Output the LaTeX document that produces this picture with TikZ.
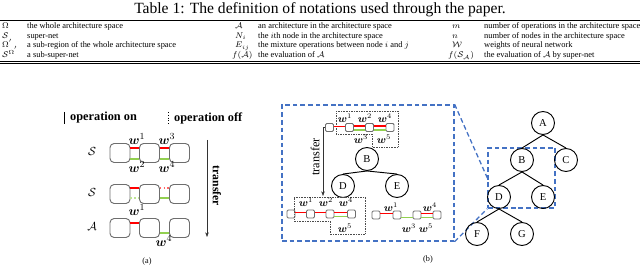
\documentclass[tikz,border=0pt]{standalone}
\usepackage{amsmath,amssymb,bm}
\usepackage{fontspec}
\setmainfont{Liberation Serif}
\usetikzlibrary{arrows.meta, positioning, calc}
\definecolor{zoomblue}{RGB}{68,114,196}
\definecolor{onred}{RGB}{255,0,0}
\definecolor{ongreen}{RGB}{146,208,80}
\definecolor{boxgray}{RGB}{110,110,110}
\tikzset{
  opbox/.style         = {rectangle, rounded corners=3.5pt, draw=boxgray, thick, minimum width=0.6cm, minimum height=0.57cm, inner sep=0pt},
  opsq/.style          = {rectangle, rounded corners=1pt, draw=boxgray, thick, minimum size=0.24cm, inner sep=0pt},
  treenode/.style      = {circle, draw, thick, minimum size=0.69cm, inner sep=0pt, font=\fontsize{9}{9}\selectfont},
  wlab/.style          = {inner sep=0pt, font=\fontsize{11}{11}\selectfont},
  wsmall/.style        = {inner sep=0pt, font=\fontsize{9}{9}\selectfont},
  redon/.style         = {onred, line width=1.2pt},
  greenon/.style       = {ongreen, line width=1.2pt},
  redoff/.style        = {onred!60, line width=1.2pt, dotted},
  greenoff/.style      = {ongreen!60, line width=1.2pt, dotted},
  zoomframe/.style     = {rectangle, draw=zoomblue, line width=1.1pt, dash pattern=on 4pt off 2.5pt, inner sep=0pt},
  zoomline/.style      = {zoomblue, line width=1.1pt, dash pattern=on 4pt off 2.5pt},
  selline/.style       = {black!70, densely dotted, thin},
  tabtext/.style       = {anchor=base west, inner sep=0pt, font=\fontsize{7.2}{8}\selectfont},
  legtext/.style       = {anchor=west, inner sep=0pt, font=\fontsize{10.5}{11}\selectfont\bfseries},
  captext/.style       = {inner sep=0pt, font=\fontsize{7}{8}\selectfont},
  transferarrow/.style = {-{Stealth[length=4pt,width=3pt]}, thin, black!80},
}

\begin{document}
\begin{tikzpicture}[x=0.03cm, y=-0.03cm]
  \useasboundingbox (0,0) rectangle (640,265);

  % table of notations
  \node[inner sep=0pt, font=\fontsize{13.3}{14}\selectfont] (tabtitle) at (320,10) {Table 1: The definition of notations used through the paper.};
  \draw[line width=0.8pt] (0,20) -- (640,20);
  \node[tabtext] (s11) at (2,29)   {$\Omega$};
  \node[tabtext] (d11) at (27,29)  {the whole architecture space};
  \node[tabtext] (s12) at (235,29) {$\mathcal{A}$};
  \node[tabtext] (d12) at (258,29) {an architecture in the architecture space};
  \node[tabtext] (s13) at (452,29) {$m$};
  \node[tabtext] (d13) at (484,29) {number of operations in the architecture space};
  \node[tabtext] (s21) at (2,38.5)   {$\mathcal{S}$};
  \node[tabtext] (d21) at (27,38.5)  {super-net};
  \node[tabtext] (s22) at (235,38.5) {$N_i$};
  \node[tabtext] (d22) at (258,38.5) {the $i$th node in the architecture space};
  \node[tabtext] (s23) at (452,38.5) {$n$};
  \node[tabtext] (d23) at (484,38.5) {number of nodes in the architecture space};
  \node[tabtext] (s31) at (2,48)   {$\Omega^{'}$};
  \node[tabtext] (d31) at (27,48)  {a sub-region of the whole architecture space};
  \node[tabtext] (s32) at (235,48) {$E_{ij}$};
  \node[tabtext] (d32) at (258,48) {the mixture operations between node $i$ and $j$};
  \node[tabtext] (s33) at (452,48) {$\mathcal{W}$};
  \node[tabtext] (d33) at (484,48) {weights of neural network};
  \node[tabtext] (s41) at (2,58)   {$\mathcal{S}^{\Omega^{'}}$};
  \node[tabtext] (d41) at (27,58)  {a sub-super-net};
  \node[tabtext] (s42) at (232,58) {$f(\mathcal{A})$};
  \node[tabtext] (d42) at (258,58) {the evaluation of $\mathcal{A}$};
  \node[tabtext] (s43) at (448,58) {$f(\mathcal{S}_{\mathcal{A}})$};
  \node[tabtext] (d43) at (484,58) {the evaluation of $\mathcal{A}$ by super-net};
  \draw[line width=0.5pt] (0,61.5) -- (640,61.5);
  \draw[line width=0.5pt] (0,63) -- (640,63);

  % (a) legend
  \draw[thin] (64,112) -- (64,124);
  \node[legtext] (legon) at (70,118) {operation on};
  \draw[thin, dotted] (168,112) -- (168,124);
  \node[legtext] (legoff) at (174,118) {operation off};

  % (a) super-net, sub-super-net, architecture
  \node[font=\fontsize{10}{10}\selectfont] (lab1) at (92,152) {$\mathcal{S}$};
  \node[font=\fontsize{10}{10}\selectfont] (lab2) at (92,193) {$\mathcal{S}$};
  \node[font=\fontsize{10}{10}\selectfont] (lab3) at (92,227) {$\mathcal{A}$};

  \node[opbox] (a11) at (120,153)   {};
  \node[opbox] (a12) at (149.5,153) {};
  \node[opbox] (a13) at (179.5,153) {};
  \node[opbox] (a21) at (120,194)   {};
  \node[opbox] (a22) at (149.5,194) {};
  \node[opbox] (a23) at (179.5,194) {};
  \node[opbox] (a31) at (120,228)   {};
  \node[opbox] (a32) at (149.5,228) {};
  \node[opbox] (a33) at (179.5,228) {};

  \draw[redon]    ([shift={(0,-5)}]a11.east) -- ([shift={(0,-5)}]a12.west);
  \draw[greenon]  ([shift={(0,6)}]a11.east)  -- ([shift={(0,6)}]a12.west);
  \draw[redon]    ([shift={(0,-5)}]a12.east) -- ([shift={(0,-5)}]a13.west);
  \draw[greenon]  ([shift={(0,6)}]a12.east)  -- ([shift={(0,6)}]a13.west);
  \draw[redon]    ([shift={(0,-6)}]a21.east) -- ([shift={(0,-6)}]a22.west);
  \draw[greenoff] ([shift={(0,4)}]a21.east)  -- ([shift={(0,4)}]a22.west);
  \draw[redoff]   ([shift={(0,-6)}]a22.east) -- ([shift={(0,-6)}]a23.west);
  \draw[greenon]  ([shift={(0,4)}]a22.east)  -- ([shift={(0,4)}]a23.west);
  \draw[redon]    ([shift={(0,-5)}]a31.east) -- ([shift={(0,-5)}]a32.west);
  \draw[greenon]  ([shift={(0,5)}]a32.east)  -- ([shift={(0,5)}]a33.west);

  \node[wlab] (aw1) at (137,139) {$\bm{w}^{1}$};
  \node[wlab] (aw2) at (137,167) {$\bm{w}^{2}$};
  \node[wlab] (aw3) at (167,139) {$\bm{w}^{3}$};
  \node[wlab] (aw4) at (167,167) {$\bm{w}^{4}$};
  \node[wlab] (aw5) at (137,210) {$\bm{w}^{1}$};
  \node[wlab] (aw6) at (164,241) {$\bm{w}^{4}$};

  \coordinate (atop) at (207,140);
  \coordinate (abot) at (207,237);
  \draw[transferarrow] (atop) -- (abot);
  \node[rotate=-90, inner sep=0pt, font=\fontsize{10}{10}\selectfont\bfseries] (atrans) at (217,186) {transfer};
  \node[captext] (capa) at (147,262) {(a)};

  % (b) zoomed part of the tree
  \node[zoomframe, minimum width=5.16cm, minimum height=4.08cm] (zbig) at (368,173) {};
  \node[zoomframe, minimum width=2.01cm, minimum height=1.8cm] (zsmall) at (521.5,178) {};
  \draw[zoomline] (zbig.north east) -- (zsmall.west);
  \draw[zoomline] (zbig.south east) -- (zsmall.south west);

  \draw[selline] (336,111) -- (398,111) -- (398,147) -- (372,147) -- (372,134) -- (336,134) -- cycle;
  \node[opsq] (u1) at (329.5,127.5) {};
  \node[opsq] (u2) at (349.5,127.5) {};
  \node[opsq] (u3) at (369.5,127.5) {};
  \node[opsq] (u4) at (390,127.5)   {};
  \draw[redon, line width=1pt]   ([shift={(0,-1)}]u1.east)   -- ([shift={(0,-1)}]u2.west);
  \draw[redon, line width=1pt]   ([shift={(0,-1.5)}]u2.east) -- ([shift={(0,-1.5)}]u3.west);
  \draw[greenon, line width=1pt] ([shift={(0,2.5)}]u2.east)  -- ([shift={(0,2.5)}]u3.west);
  \draw[redon, line width=1pt]   ([shift={(0,-1.5)}]u3.east) -- ([shift={(0,-1.5)}]u4.west);
  \draw[greenon, line width=1pt] ([shift={(0,2.5)}]u3.east)  -- ([shift={(0,2.5)}]u4.west);
  \node[wsmall] (uw1) at (345,118) {$\bm{w}^{1}$};
  \node[wsmall] (uw2) at (365,118) {$\bm{w}^{2}$};
  \node[wsmall] (uw4) at (385,118) {$\bm{w}^{4}$};
  \node[wsmall] (uw3) at (361,139) {$\bm{w}^{3}$};
  \node[wsmall] (uw5) at (384,139) {$\bm{w}^{5}$};

  \node[treenode] (nb) at (367,159) {B};
  \node[treenode] (nd) at (343,186) {D};
  \node[treenode] (ne) at (397,186) {E};
  \draw[thick] (nb.south) -- (nd.north);
  \draw[thick] (nb.south) -- (ne.north);

  \coordinate (bend) at (323,196);
  \draw[transferarrow] (u1.west) -| (bend);
  \node[rotate=90, inner sep=0pt, font=\fontsize{10.5}{11}\selectfont] (btrans) at (315,157) {transfer};

  \draw[selline] (294,197) -- (365,197) -- (365,234) -- (330,234) -- (330,221) -- (294,221) -- cycle;
  \node[opsq] (l1) at (291,214)   {};
  \node[opsq] (l2) at (310.5,214) {};
  \node[opsq] (l3) at (330,214)   {};
  \node[opsq] (l4) at (351.5,214) {};
  \draw[redon, line width=1pt]   ([shift={(0,-1.5)}]l1.east) -- ([shift={(0,-1.5)}]l2.west);
  \draw[redon, line width=1pt]   ([shift={(0,-1.5)}]l2.east) -- ([shift={(0,-1.5)}]l3.west);
  \draw[redon, line width=1pt]   ([shift={(0,-1.5)}]l3.east) -- ([shift={(0,-1.5)}]l4.west);
  \draw[greenon, line width=1pt] ([shift={(0,2.5)}]l3.east)  -- ([shift={(0,2.5)}]l4.west);
  \node[wsmall] (lw1) at (306,202) {$\bm{w}^{1}$};
  \node[wsmall] (lw2) at (326,202) {$\bm{w}^{2}$};
  \node[wsmall] (lw4) at (346,202) {$\bm{w}^{4}$};
  \node[wsmall] (lw5) at (345,228) {$\bm{w}^{5}$};

  \node[opsq] (r1) at (376,215) {};
  \node[opsq] (r2) at (397,215) {};
  \node[opsq] (r3) at (417,215) {};
  \node[opsq] (r4) at (437,215) {};
  \draw[redon, line width=1pt]   ([shift={(0,-1.5)}]r1.east) -- ([shift={(0,-1.5)}]r2.west);
  \draw[greenon, line width=1pt] ([shift={(0,2.5)}]r2.east)  -- ([shift={(0,2.5)}]r3.west);
  \draw[redon, line width=1pt]   ([shift={(0,-1.5)}]r3.east) -- ([shift={(0,-1.5)}]r4.west);
  \draw[greenon, line width=1pt] ([shift={(0,2.5)}]r3.east)  -- ([shift={(0,2.5)}]r4.west);
  \node[wsmall] (rw1) at (391,207) {$\bm{w}^{1}$};
  \node[wsmall] (rw4) at (430,207) {$\bm{w}^{4}$};
  \node[wsmall] (rw3) at (409,228) {$\bm{w}^{3}$};
  \node[wsmall] (rw5) at (426,228) {$\bm{w}^{5}$};
  \node[captext] (capb) at (428,260) {(b)};

  % whole tree
  \node[treenode] (ta) at (543,123) {A};
  \node[treenode] (tb) at (522,160) {B};
  \node[treenode] (tc) at (566,160) {C};
  \node[treenode] (td) at (499,197) {D};
  \node[treenode] (te) at (543,197) {E};
  \node[treenode] (tf) at (477,234) {F};
  \node[treenode] (tg) at (522,234) {G};
  \draw[thick] (ta.south) -- (tb.north);
  \draw[thick] (ta.south) -- (tc.north);
  \draw[thick] (tb.south) -- (td.north);
  \draw[thick] (tb.south) -- (te.north);
  \draw[thick] (td.south) -- (tf.north);
  \draw[thick] (td.south) -- (tg.north);
\end{tikzpicture}
\end{document}
